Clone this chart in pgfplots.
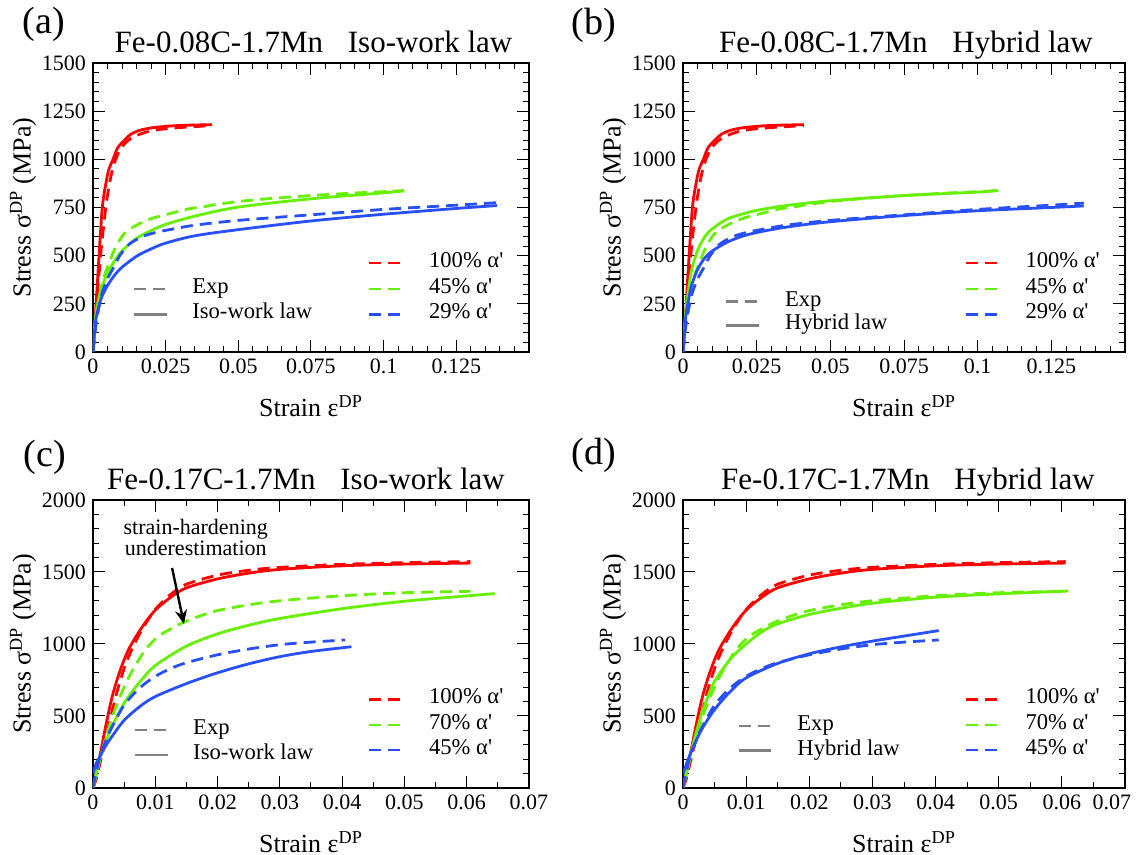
\documentclass[border=0pt]{standalone}
\usepackage{fontspec}
\setmainfont{Liberation Serif}[Ligatures=TeXOff]
\usepackage{pgfplots}
\pgfplotsset{compat=1.18}
\usetikzlibrary{arrows.meta}
\definecolor{cred}{RGB}{255,0,0}
\definecolor{cgreen}{RGB}{102,240,0}
\definecolor{cblue}{RGB}{40,80,250}
\definecolor{cgray}{RGB}{128,128,128}
\newcommand{\fs}[1]{\fontsize{#1}{#1}\selectfont}
\tikzset{
  expl/.style={line width=1.4pt, dash pattern=on 6pt off 3.5pt},
  modl/.style={line width=1.4pt},
}
\newcommand{\leg}[6]{%
  \draw[#1] (rel axis cs:#2,#5) -- (rel axis cs:#3,#5);
  \node[anchor=mid west, inner sep=0pt, font=\fs{11.3}] at (rel axis cs:#4,#5) {#6};}
\pgfplotsset{
  dp/.style={
    scale only axis,
    axis line style={line width=0.9pt},
    every tick/.style={black, line width=0.5pt},
    major tick length=6pt, minor tick length=3pt,
    tick align=inside, tick pos=both,
    tick label style={font=\fs{11}},
    scaled x ticks=false, scaled y ticks=false,
    /pgf/number format/assume math mode=true,
    /pgf/number format/1000 sep={},
    label style={font=\fs{13}},
    xlabel={Strain ε\textsuperscript{DP}},
    ylabel={Stress σ\textsuperscript{DP} (MPa)},
    xlabel style={yshift=-4pt},
    ylabel shift=-4pt,
    xmin=0, ymin=0,
  },
  top/.style={dp, xmax=0.15, ymax=1500,
    xtick={0,0.025,0.05,0.075,0.1,0.125,0.15},
    xticklabels={0,0.025,0.05,0.075,0.1,0.125,},
    ytick={0,250,500,750,1000,1250,1500},
    minor x tick num=4, minor y tick num=4},
  bot/.style={dp, xmax=0.07, ymax=2000,
    xtick={0,0.01,0.02,0.03,0.04,0.05,0.06,0.07},
    xticklabels={0,0.01,0.02,0.03,0.04,0.05,0.06,0.07},
    ytick={0,500,1000,1500,2000},
    minor x tick num=1, minor y tick num=4},
}
\begin{document}
\begin{tikzpicture}
\useasboundingbox (0,0) rectangle (568pt,427.5pt);
% ---------------- (a) ----------------
\begin{axis}[top, at={(46.5pt,251.5pt)}, anchor=south west, width=218pt, height=144.5pt]
\addplot[expl, smooth, cred] coordinates {(0,0) (0.001,200) (0.002,390) (0.003,560) (0.0044,750) (0.0055,860) (0.0066,940) (0.0078,1000) (0.0095,1055) (0.0115,1090) (0.0138,1115) (0.017,1135) (0.0206,1150) (0.026,1160) (0.032,1167) (0.0365,1171) (0.041,1176)};
\addplot[modl, smooth, cred] coordinates {(0,0) (0.0005,100) (0.001,230) (0.002,480) (0.0032,750) (0.0045,880) (0.0055,950) (0.0069,1000) (0.0085,1060) (0.0109,1100) (0.013,1130) (0.016,1150) (0.02,1163) (0.025,1171) (0.03,1176) (0.035,1178) (0.041,1180)};
\addplot[expl, smooth, cgreen] coordinates {(0,0) (0.001,150) (0.0025,310) (0.004,400) (0.0055,460) (0.0068,510) (0.008,550) (0.01,600) (0.012,631) (0.016,666) (0.02,692) (0.024,709) (0.0287,727) (0.0333,744) (0.0378,753) (0.0424,766) (0.047,775) (0.0505,782) (0.06,795) (0.075,812) (0.09,825) (0.1,832) (0.107,838)};
\addplot[modl, smooth, cgreen] coordinates {(0,0) (0.0005,120) (0.001,200) (0.002,280) (0.003,335) (0.005,410) (0.0075,475) (0.01,525) (0.015,590) (0.02,630) (0.025,662) (0.035,705) (0.05,752) (0.075,795) (0.1,826) (0.107,836)};
\addplot[expl, smooth, cblue] coordinates {(0,0) (0.001,140) (0.002,230) (0.003,300) (0.005,380) (0.0075,450) (0.0092,500) (0.0125,560) (0.0172,600) (0.022,622) (0.0264,635) (0.035,658) (0.05,683) (0.075,712) (0.1,740) (0.125,762) (0.139,775)};
\addplot[modl, smooth, cblue] coordinates {(0,0) (0.0005,100) (0.001,170) (0.002,235) (0.003,285) (0.005,345) (0.0075,400) (0.01,440) (0.015,497) (0.02,535) (0.025,565) (0.035,603) (0.05,635) (0.075,680) (0.1,715) (0.125,745) (0.139,760)};
\leg{expl,cred}{0.634}{0.709}{0.770}{0.308}{100\% α'}
\leg{expl,cgreen}{0.634}{0.709}{0.770}{0.218}{45\% α'}
\leg{expl,cblue}{0.634}{0.709}{0.770}{0.131}{29\% α'}
\leg{expl,cgray}{0.094}{0.169}{0.227}{0.218}{Exp}
\leg{modl,cgray}{0.094}{0.169}{0.227}{0.131}{Iso-work law}
\end{axis}
% ---------------- (b) ----------------
\begin{axis}[top, at={(341.5pt,251.5pt)}, anchor=south west, width=221pt, height=144.5pt]
\addplot[expl, smooth, cred] coordinates {(0,0) (0.001,200) (0.002,390) (0.003,560) (0.0044,750) (0.0055,860) (0.0066,940) (0.0078,1000) (0.0095,1055) (0.0115,1090) (0.0138,1115) (0.017,1135) (0.0206,1150) (0.026,1160) (0.032,1167) (0.0365,1171) (0.041,1176)};
\addplot[modl, smooth, cred] coordinates {(0,0) (0.0005,100) (0.001,230) (0.002,480) (0.0032,750) (0.0045,880) (0.0055,950) (0.0069,1000) (0.0085,1060) (0.0109,1100) (0.013,1130) (0.016,1150) (0.02,1163) (0.025,1171) (0.03,1176) (0.035,1178) (0.041,1180)};
\addplot[expl, smooth, cgreen] coordinates {(0,0) (0.001,150) (0.0025,310) (0.004,400) (0.0055,460) (0.0068,510) (0.008,550) (0.01,600) (0.012,631) (0.016,666) (0.02,692) (0.024,709) (0.0287,727) (0.0333,744) (0.0378,753) (0.0424,766) (0.047,775) (0.0505,782) (0.06,795) (0.075,812) (0.09,825) (0.1,832) (0.107,838)};
\addplot[modl, smooth, cgreen] coordinates {(0,0) (0.0005,120) (0.001,220) (0.002,340) (0.003,430) (0.005,530) (0.0075,600) (0.01,640) (0.015,690) (0.02,715) (0.025,735) (0.035,760) (0.05,785) (0.075,812) (0.1,830) (0.107,838)};
\addplot[expl, smooth, cblue] coordinates {(0,0) (0.001,140) (0.002,230) (0.003,300) (0.005,380) (0.0075,450) (0.0092,500) (0.0125,560) (0.0172,600) (0.022,622) (0.0264,635) (0.035,658) (0.05,683) (0.075,712) (0.1,740) (0.125,762) (0.136,773)};
\addplot[modl, smooth, cblue] coordinates {(0,0) (0.0005,100) (0.001,190) (0.002,280) (0.003,350) (0.005,430) (0.0075,490) (0.01,525) (0.015,570) (0.02,600) (0.025,620) (0.035,648) (0.05,676) (0.075,708) (0.1,733) (0.125,750) (0.136,758)};
\leg{expl,cred}{0.641}{0.716}{0.774}{0.308}{100\% α'}
\leg{expl,cgreen}{0.641}{0.716}{0.774}{0.218}{45\% α'}
\leg{expl,cblue}{0.641}{0.716}{0.774}{0.131}{29\% α'}
\leg{expl,cgray}{0.098}{0.172}{0.230}{0.174}{Exp}
\leg{modl,cgray}{0.098}{0.172}{0.230}{0.093}{Hybrid law}
\end{axis}
% ---------------- (c) ----------------
\begin{axis}[bot, at={(46.5pt,33.5pt)}, anchor=south west, width=218pt, height=144pt]
\addplot[expl, smooth, cred] coordinates {(0,0) (0.0005,60) (0.001,150) (0.002,330) (0.003,520) (0.004,690) (0.005,830) (0.006,940) (0.007,1030) (0.008,1110) (0.01,1240) (0.0125,1345) (0.015,1415) (0.02,1478) (0.025,1512) (0.03,1532) (0.04,1553) (0.05,1565) (0.0606,1572)};
\addplot[modl, smooth, cred] coordinates {(0,0) (0.001,200) (0.002,420) (0.003,620) (0.004,770) (0.005,890) (0.006,985) (0.008,1125) (0.01,1235) (0.0125,1325) (0.015,1390) (0.02,1452) (0.025,1492) (0.03,1518) (0.04,1543) (0.05,1555) (0.0606,1562)};
\addplot[expl, smooth, cgreen] coordinates {(0,0) (0.001,180) (0.002,340) (0.003,480) (0.004,600) (0.005,700) (0.006,790) (0.007,865) (0.0085,965) (0.0104,1050) (0.0125,1105) (0.0145,1150) (0.0175,1200) (0.02,1232) (0.025,1272) (0.03,1300) (0.04,1335) (0.05,1356) (0.0606,1366)};
\addplot[modl, smooth, cgreen] coordinates {(0,0) (0.001,190) (0.002,320) (0.003,420) (0.005,590) (0.0075,735) (0.01,850) (0.015,985) (0.02,1070) (0.025,1130) (0.03,1177) (0.04,1245) (0.05,1297) (0.06,1334) (0.0645,1350)};
\addplot[expl, smooth, cblue] coordinates {(0,0) (0.001,200) (0.002,320) (0.003,420) (0.005,575) (0.0075,695) (0.01,775) (0.0125,830) (0.015,870) (0.02,925) (0.025,965) (0.03,995) (0.035,1013) (0.0405,1028)};
\addplot[modl, smooth, cblue] coordinates {(0,100) (0.0005,170) (0.001,210) (0.002,290) (0.003,355) (0.005,470) (0.0075,565) (0.01,635) (0.015,725) (0.02,800) (0.025,862) (0.03,912) (0.035,948) (0.0415,981)};
\leg{expl,cred}{0.634}{0.709}{0.770}{0.308}{100\% α'}
\leg{expl,cgreen}{0.634}{0.709}{0.770}{0.219}{70\% α'}
\leg{expl,cblue}{0.634}{0.709}{0.770}{0.132}{45\% α'}
\leg{line width=1pt,cgray,dash pattern=on 6pt off 3.5pt}{0.096}{0.171}{0.229}{0.201}{Exp}
\leg{line width=1pt,cgray}{0.096}{0.171}{0.229}{0.115}{Iso-work law}
\draw[-{Stealth[length=7pt,width=6pt]}, line width=1.2pt] (axis cs:0.0127,1528) -- (axis cs:0.0146,1139);
\node[align=center, inner sep=0pt, font=\fontsize{11}{10.5}\selectfont] at (axis cs:0.0165,1740) {strain-hardening\\underestimation};
\end{axis}
% ---------------- (d) ----------------
\begin{axis}[bot, at={(341.5pt,33.5pt)}, anchor=south west, width=221pt, height=144pt,
  xticklabels={0,0.01,0.02,0.03,0.04,0.05,0.06,\hspace*{-13pt}0.07}]
\addplot[expl, smooth, cred] coordinates {(0,0) (0.0005,60) (0.001,150) (0.002,330) (0.003,520) (0.004,690) (0.005,830) (0.006,940) (0.007,1030) (0.008,1110) (0.01,1240) (0.0125,1345) (0.015,1415) (0.02,1478) (0.025,1512) (0.03,1532) (0.04,1553) (0.05,1565) (0.0606,1572)};
\addplot[modl, smooth, cred] coordinates {(0,0) (0.001,200) (0.002,420) (0.003,620) (0.004,770) (0.005,890) (0.006,985) (0.008,1125) (0.01,1235) (0.0125,1325) (0.015,1390) (0.02,1452) (0.025,1492) (0.03,1518) (0.04,1543) (0.05,1555) (0.0606,1562)};
\addplot[expl, smooth, cgreen] coordinates {(0,0) (0.001,180) (0.002,340) (0.003,480) (0.004,600) (0.005,700) (0.006,790) (0.007,865) (0.0085,965) (0.0104,1050) (0.0125,1105) (0.0145,1150) (0.0175,1200) (0.02,1232) (0.025,1272) (0.03,1300) (0.04,1335) (0.05,1356) (0.0606,1366)};
\addplot[modl, smooth, cgreen] coordinates {(0,0) (0.001,200) (0.002,370) (0.003,520) (0.004,640) (0.005,740) (0.0075,895) (0.01,1000) (0.0125,1085) (0.015,1140) (0.02,1205) (0.025,1248) (0.03,1283) (0.04,1325) (0.05,1348) (0.061,1368)};
\addplot[expl, smooth, cblue] coordinates {(0,0) (0.001,200) (0.002,320) (0.003,420) (0.005,575) (0.0075,695) (0.01,775) (0.0125,830) (0.015,870) (0.02,925) (0.025,965) (0.03,995) (0.035,1013) (0.0405,1028)};
\addplot[modl, smooth, cblue] coordinates {(0,100) (0.001,220) (0.002,320) (0.003,410) (0.005,545) (0.0075,670) (0.01,765) (0.015,865) (0.02,932) (0.025,980) (0.03,1020) (0.035,1055) (0.0405,1093)};
\leg{expl,cred}{0.641}{0.716}{0.774}{0.308}{100\% α'}
\leg{expl,cgreen}{0.641}{0.716}{0.774}{0.219}{70\% α'}
\leg{expl,cblue}{0.641}{0.716}{0.774}{0.132}{45\% α'}
\leg{expl,cgray}{0.127}{0.200}{0.258}{0.215}{Exp}
\leg{modl,cgray}{0.127}{0.200}{0.258}{0.130}{Hybrid law}
\end{axis}
% ---------------- labels and titles ----------------
\node[font=\fs{19}] at (22pt,415.5pt) {(a)};
\node[font=\fs{19}] at (297pt,415pt) {(b)};
\node[font=\fs{19}] at (22.5pt,199pt) {(c)};
\node[font=\fs{19}] at (297pt,200pt) {(d)};
\node[font=\fs{15.5}, anchor=base, inner sep=0pt] at (156.75pt,401pt) {Fe-0.08C-1.7Mn\hspace{0.8em}Iso-work law};
\node[font=\fs{15.5}, anchor=base, inner sep=0pt] at (453pt,401pt) {Fe-0.08C-1.7Mn\hspace{0.8em}Hybrid law};
\node[font=\fs{15.5}, anchor=base, inner sep=0pt] at (153pt,182.5pt) {Fe-0.17C-1.7Mn\hspace{0.8em}Iso-work law};
\node[font=\fs{15.5}, anchor=base, inner sep=0pt] at (454pt,182.5pt) {Fe-0.17C-1.7Mn\hspace{0.8em}Hybrid law};
\end{tikzpicture}
\end{document}
